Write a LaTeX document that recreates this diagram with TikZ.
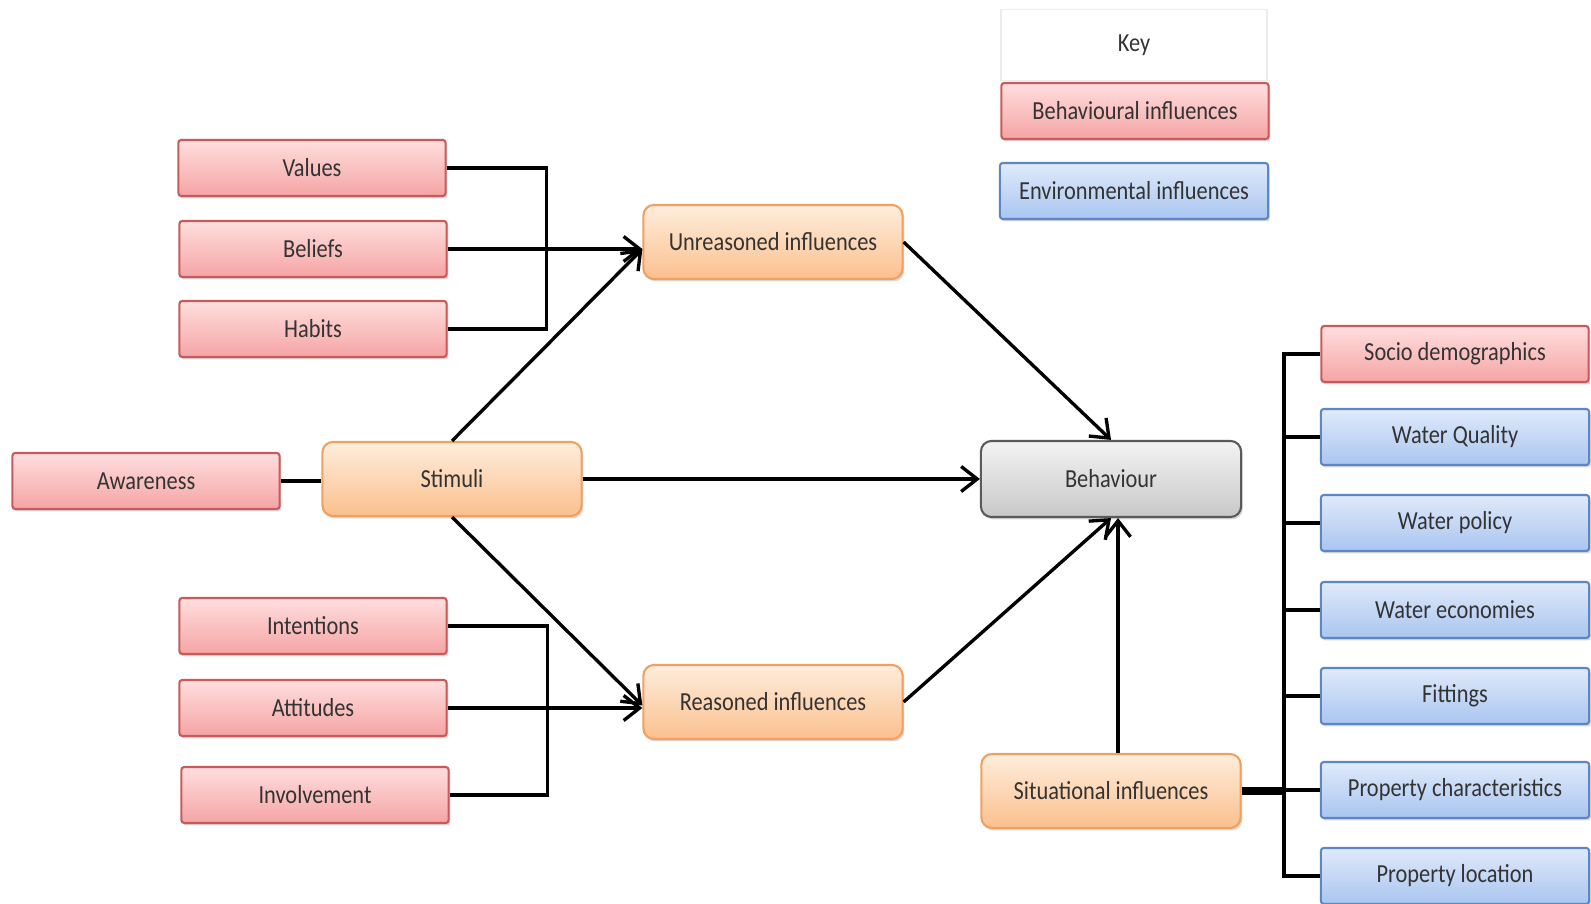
\documentclass[tikz,border=0pt]{standalone}
\usepackage{fontspec}
\setmainfont{Carlito}[FakeStretch=0.86]
\usetikzlibrary{arrows.meta,shadows}
\definecolor{redtop}{HTML}{FFDEDE}
\definecolor{redbot}{HTML}{F5A4A4}
\definecolor{redline}{HTML}{C95A5C}
\definecolor{bluetop}{HTML}{E0EAFA}
\definecolor{bluebot}{HTML}{A9C5F0}
\definecolor{blueline}{HTML}{5C87C4}
\definecolor{orgtop}{HTML}{FEEDDC}
\definecolor{orgbot}{HTML}{FBC08E}
\definecolor{orgline}{HTML}{F0A060}
\definecolor{greytop}{HTML}{F3F3F3}
\definecolor{greybot}{HTML}{C8C8C8}
\definecolor{greyline}{HTML}{5A5A5A}
\definecolor{txt}{HTML}{333333}

\begin{document}
\begin{tikzpicture}[x=0.01cm,y=0.01cm,font=\fontsize{7.4}{9}\selectfont]
\tikzstyle{every node}+=[inner sep=0pt,text=txt,align=center]
\tikzstyle{box}=[draw,line width=0.6pt,drop shadow={shadow xshift=0.5pt,shadow yshift=-0.7pt,opacity=0.3}]
\tikzstyle{behav}=[box,rounded corners=0.8pt,draw=redline,top color=redtop,bottom color=redbot,minimum width=2.67cm,minimum height=0.56cm]
\tikzstyle{envir}=[box,rounded corners=0.8pt,draw=blueline,top color=bluetop,bottom color=bluebot,minimum width=2.68cm,minimum height=0.56cm]
\tikzstyle{infl}=[box,rounded corners=3pt,draw=orgline,top color=orgtop,bottom color=orgbot,minimum width=2.59cm,minimum height=0.74cm]
\tikzstyle{link}=[line width=0.95pt]
\tikzstyle{arr}=[link,-{Straight Barb[length=1.6mm,width=2.5mm]}]
\useasboundingbox (0,0) rectangle (1591,-904);
\node [draw=gray!15,minimum width=2.66cm,minimum height=0.71cm] (key) at (1134,-45) {Key};
\node [behav] (behkey) at (1135,-111) {Behavioural influences};
\node [envir] (envkey) at (1134,-191) {Environmental influences};
\node [behav] (values) at (312,-168) {Values};
\node [behav] (beliefs) at (313,-249) {Beliefs};
\node [behav] (habits) at (313,-329) {Habits};
\node [infl] (unreas) at (773,-242) {Unreasoned influences};
\node [behav] (awareness) at (146,-481) {Awareness};
\node [infl] (stimuli) at (452,-479) {Stimuli};
\node [box,rounded corners=3pt,draw=greyline,top color=greytop,bottom color=greybot,minimum width=2.6cm,minimum height=0.76cm] (behaviour) at (1111,-479) {Behaviour};
\node [behav] (intentions) at (313,-626) {Intentions};
\node [behav] (attitudes) at (313,-708) {Attitudes};
\node [behav] (involvement) at (315,-795) {Involvement};
\node [infl] (reas) at (773,-702) {Reasoned influences};
\node [infl] (situ) at (1111,-791) {Situational influences};
\node [behav] (socio) at (1455,-354) {Socio demographics};
\node [envir] (quality) at (1455,-437) {Water Quality};
\node [envir] (policy) at (1455,-523) {Water policy};
\node [envir] (economies) at (1455,-610) {Water economies};
\node [envir] (fittings) at (1455,-696) {Fittings};
\node [envir] (propchar) at (1455,-790) {Property characteristics};
\node [envir] (proploc) at (1455,-876) {Property location};
\coordinate (bus) at (1284,0);
\draw [link] (values.east) -- ++(100,0) |- (habits.east);
\draw [arr] (beliefs.east) -- (beliefs.east -| unreas.west);
\draw [link] (intentions.east) -- ++(100,0) |- (involvement.east);
\draw [arr] (attitudes.east) -- (attitudes.east -| reas.west);
\draw [link] (awareness.east) -- (awareness.east -| stimuli.west);
\draw [arr] (stimuli.north) -- ([yshift=-2pt]unreas.west);
\draw [arr] (stimuli.south) -- ([yshift=-1pt]reas.west);
\draw [arr] (stimuli.east) -- (behaviour.west);
\draw [arr] (unreas.east) -- (behaviour.north);
\draw [arr] (reas.east) -- (behaviour.south);
\draw [arr] ([xshift=2pt]situ.north) -- ([xshift=2pt]behaviour.south);
\draw [link] (socio.west) -- (socio.west -| bus) |- (proploc.west);
\foreach \n in {quality,policy,economies,fittings,propchar}
  \draw [link] (\n.west) -- (\n.west -| bus);
\draw [line width=2.2pt] (situ.east) -- (situ.east -| bus);
\end{tikzpicture}
\end{document}
